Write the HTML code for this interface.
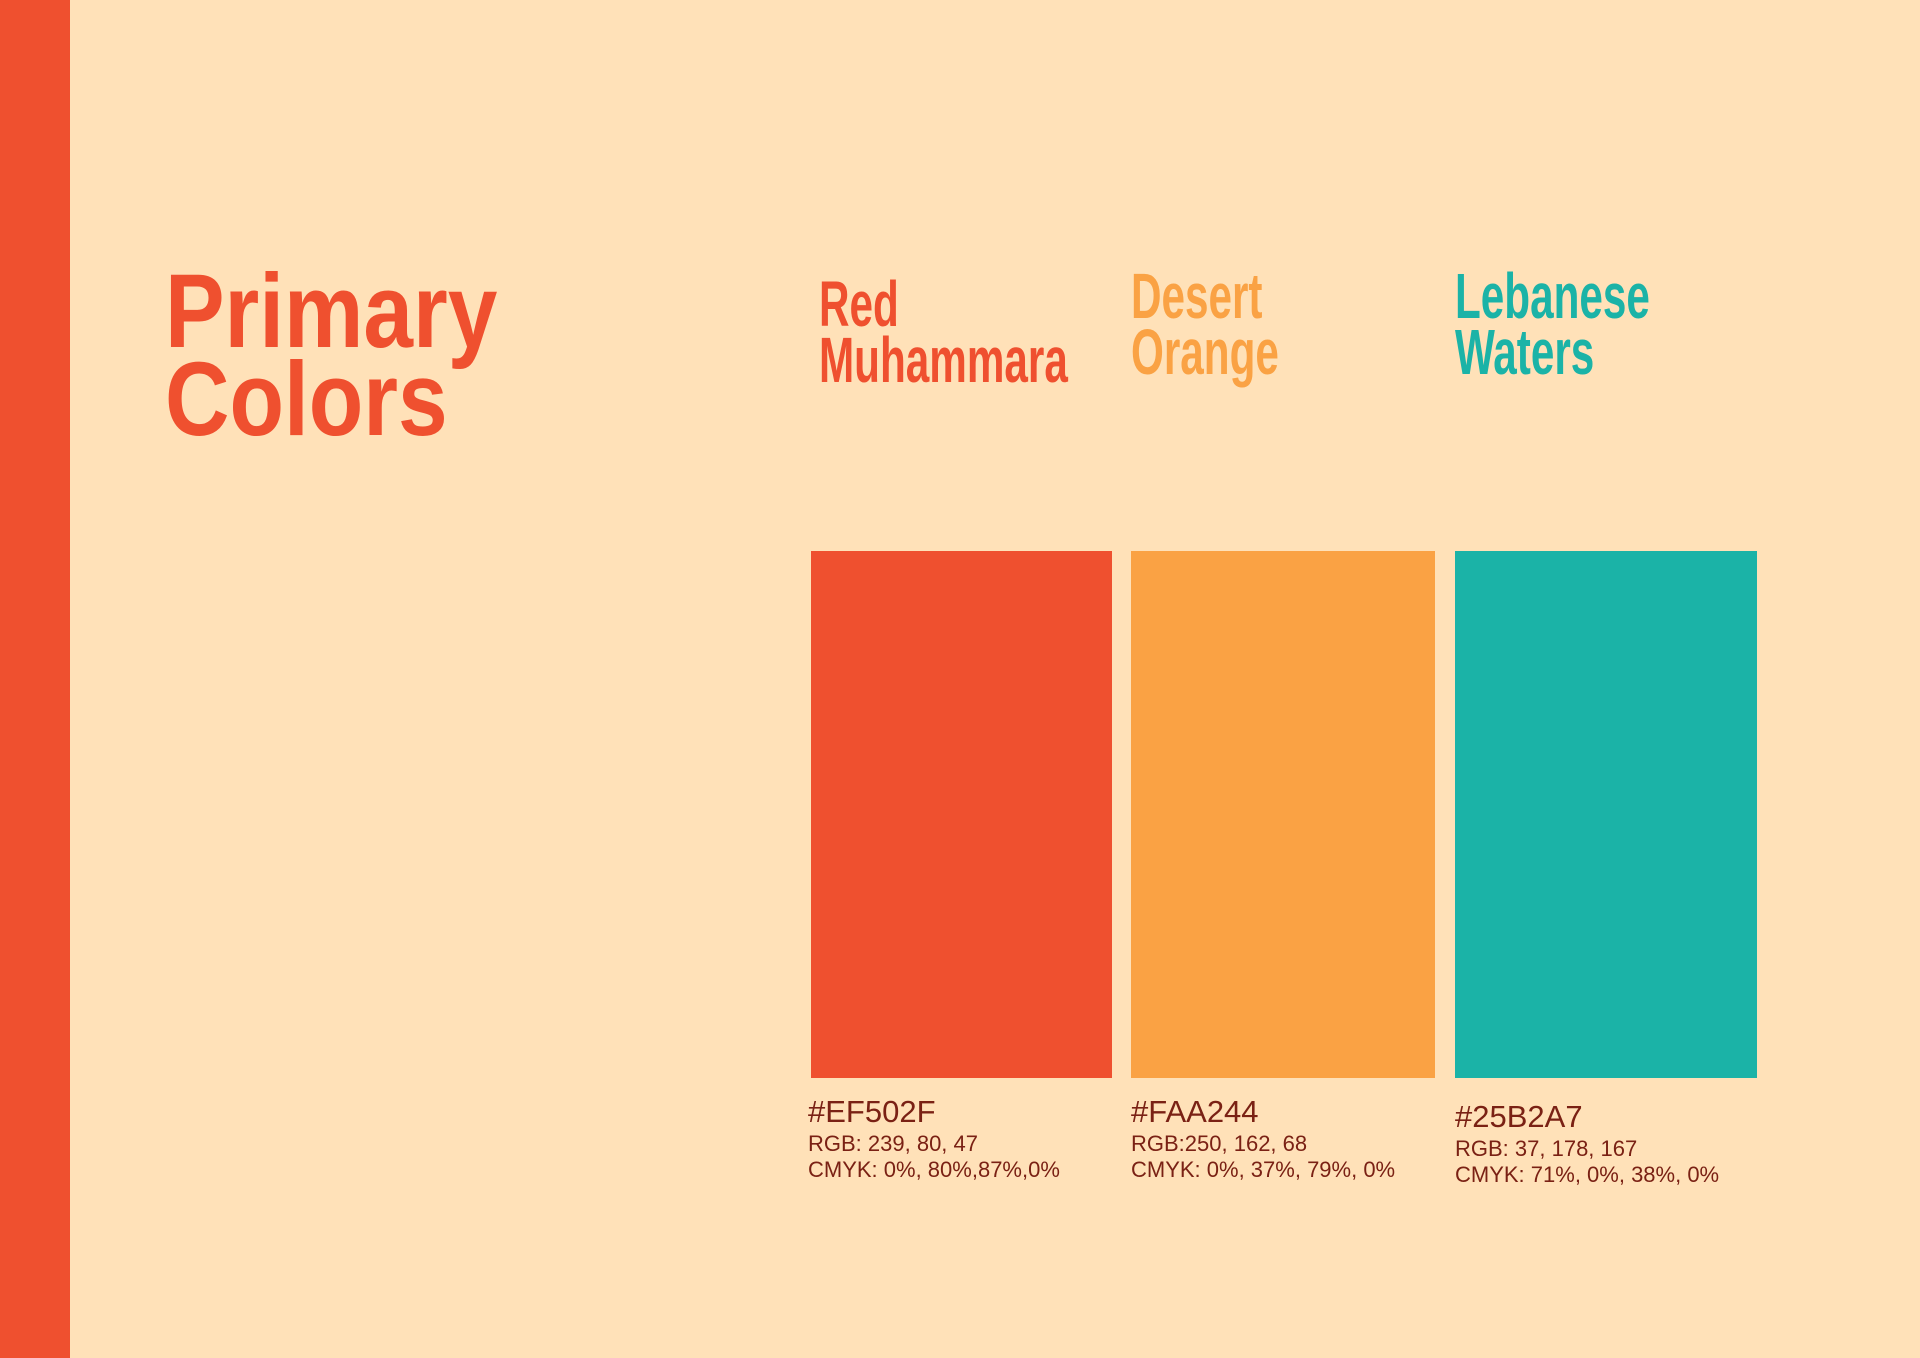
<!DOCTYPE html>
<html><head><meta charset="utf-8"><style>
body{margin:0;width:1920px;height:1358px;background:#FFE1B8;position:relative;overflow:hidden;font-family:"Liberation Sans",sans-serif}
.a{position:absolute;white-space:nowrap}
.title{font-weight:bold;color:#EF502F;font-size:105px;line-height:88px;transform:scaleX(0.85);transform-origin:left top}
.name{font-weight:bold;font-size:64px;line-height:56px;transform:scaleX(0.66);transform-origin:left top}
.sw{position:absolute;top:551px;height:527px}
.hex{font-size:31px;line-height:31px;color:#7A2114}
.sm{font-size:22px;line-height:22px;color:#7A2114}
</style></head><body>
<div class="a" style="left:0;top:0;width:70px;height:1358px;background:#EF502F"></div>
<div class="a title" style="left:165px;top:268px">Primary<br>Colors</div>

<div class="a name" style="left:819px;top:276px;color:#EF502F">Red<br>Muhammara</div>
<div class="a name" style="left:1131px;top:268px;color:#FAA244">Desert<br>Orange</div>
<div class="a name" style="left:1455px;top:268px;color:#1BB3A7">Lebanese<br>Waters</div>

<div class="sw" style="left:811px;width:301px;background:#EF502F"></div>
<div class="sw" style="left:1131px;width:304px;background:#FAA244"></div>
<div class="sw" style="left:1455px;width:302px;background:#1BB3A7"></div>

<div class="a hex" style="left:808px;top:1096px">#EF502F</div>
<div class="a sm" style="left:808px;top:1133px">RGB: 239, 80, 47</div>
<div class="a sm" style="left:808px;top:1159px">CMYK: 0%, 80%,87%,0%</div>

<div class="a hex" style="left:1131px;top:1096px">#FAA244</div>
<div class="a sm" style="left:1131px;top:1133px">RGB:250, 162, 68</div>
<div class="a sm" style="left:1131px;top:1159px">CMYK: 0%, 37%, 79%, 0%</div>

<div class="a hex" style="left:1455px;top:1101px">#25B2A7</div>
<div class="a sm" style="left:1455px;top:1138px">RGB: 37, 178, 167</div>
<div class="a sm" style="left:1455px;top:1164px">CMYK: 71%, 0%, 38%, 0%</div>
</body></html>
